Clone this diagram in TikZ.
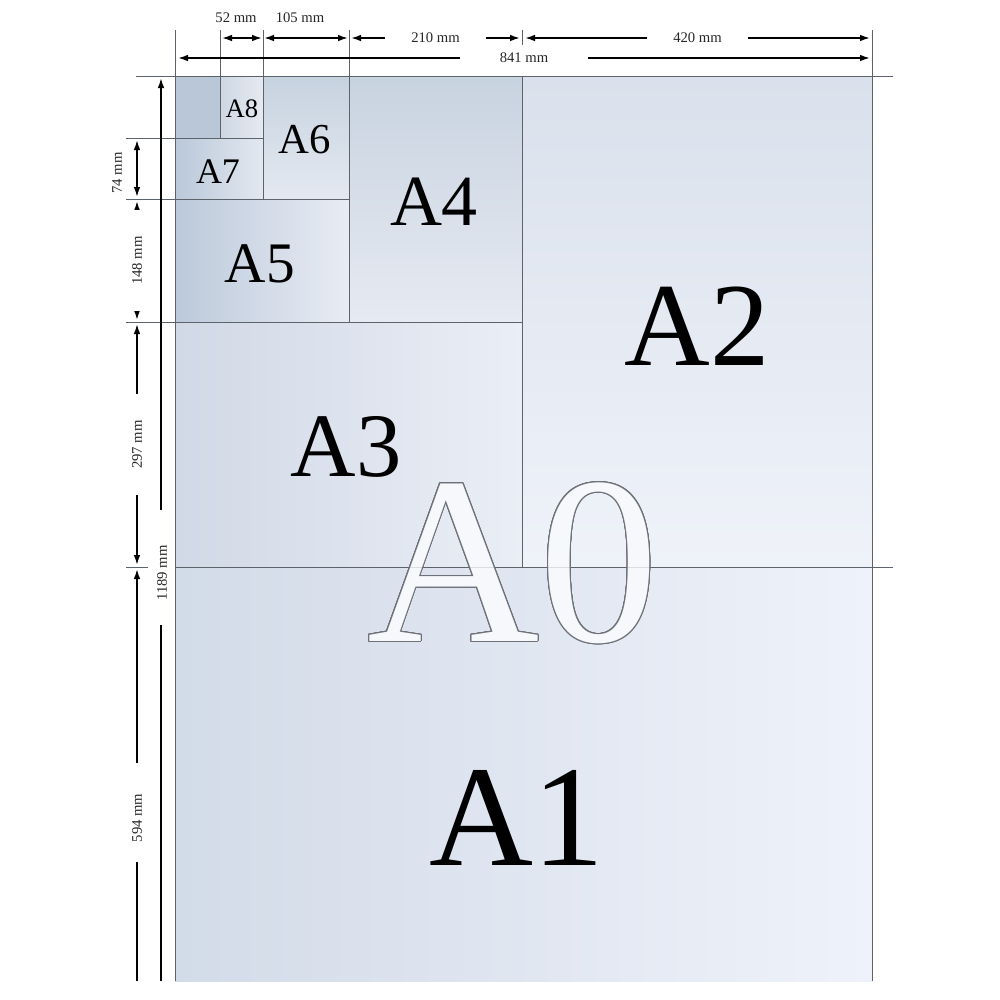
\documentclass[tikz,border=0pt]{standalone}
\usepackage{fontspec}
\setmainfont{Liberation Serif}
\usetikzlibrary{arrows.meta}

\definecolor{gridgray}{HTML}{5C636B}
\definecolor{outlinegray}{HTML}{6E7278}
\definecolor{aoneL}{HTML}{D2DBE8}\definecolor{aoneR}{HTML}{EFF2FA}
\definecolor{atwoT}{HTML}{DAE1EC}\definecolor{atwoB}{HTML}{EFF2F9}
\definecolor{athreeL}{HTML}{D1D9E6}\definecolor{athreeR}{HTML}{EAEEF6}
\definecolor{afourT}{HTML}{C8D3E0}\definecolor{afourB}{HTML}{E6EAF2}
\definecolor{afiveL}{HTML}{BCC9DA}\definecolor{afiveR}{HTML}{E8ECF4}
\definecolor{asixT}{HTML}{C6D2DF}\definecolor{asixB}{HTML}{E4E9F1}
\definecolor{asevenL}{HTML}{BAC8D9}\definecolor{asevenR}{HTML}{E2E8F0}
\definecolor{aeightL}{HTML}{CDD7E3}\definecolor{aeightR}{HTML}{E6EAF1}
\definecolor{aeightX}{HTML}{B9C7D8}
\definecolor{ghostfill}{HTML}{F7F8FB}
\tikzset{
  guide/.style={draw=gridgray, line width=0.7pt},
  dimline/.style={line width=1.3pt, black},
  tip/.tip={Latex[length=7.5pt,width=5pt]},
  dimtext/.style={font=\fontsize{11}{11}\selectfont, text=black!85, inner sep=0pt},
  gaptext/.style={dimtext, fill=white, inner xsep=20pt, inner ysep=2pt},
  sizename/.style={font=\fontsize{#1}{#1}\selectfont, inner sep=0pt},
  ghost/.style={sizename=179}
}

\begin{document}
\begin{tikzpicture}[x=0.75pt,y=0.75pt,yscale=-1,xscale=1]
    \useasboundingbox (0,0) rectangle (1000,1000);
    \fill[white] (0,0) rectangle (1000,1000);
    % sheets
    \shade[left color=aoneL, right color=aoneR] (175,567) rectangle (872,981);
    \shade[top color=atwoT, bottom color=atwoB] (522,76) rectangle (872,567);
    \shade[left color=athreeL, right color=athreeR] (175,322) rectangle (522,567);
    \shade[top color=afourT, bottom color=afourB] (349,76) rectangle (522,322);
    \shade[left color=afiveL, right color=afiveR] (175,199) rectangle (349,322);
    \shade[top color=asixT, bottom color=asixB] (263,76) rectangle (349,199);
    \shade[left color=asevenL, right color=asevenR] (175,138) rectangle (263,199);
    \shade[left color=aeightL, right color=aeightR] (220,76) rectangle (263,138);
    \fill[aeightX] (175,76) rectangle (220,138);

    % sheet edges and guide lines
    \draw[guide] (136,76) -- (893,76);
    \draw[guide] (126,138) -- (263,138);
    \draw[guide] (126,199) -- (349,199);
    \draw[guide] (126,322) -- (522,322);
    \draw[guide] (126,567) -- (148,567);
    \draw[guide] (175,567) -- (893,567);
    \draw[guide] (175,30) -- (175,981);
    \draw[guide] (220,30) -- (220,138);
    \draw[guide] (263,30) -- (263,199);
    \draw[guide] (349,30) -- (349,322);
    \draw[guide] (522,30) -- (522,45);
    \draw[guide] (522,76) -- (522,567);
    \draw[guide] (872,30) -- (872,981);

    % widths
    \draw[dimline,tip-tip] (222,38) -- (262,38);
    \draw[dimline,tip-tip] (264,38) -- (348,38);
    \draw[dimline,tip-tip] (351,38) -- node[gaptext] (w210) {210 mm} (520,38);
    \draw[dimline,tip-tip] (525,38) -- node[gaptext] (w420) {420 mm} (870,38);
    \draw[dimline,tip-tip] (178,58) -- node[gaptext, inner xsep=30pt] (w841) {841 mm} (870,58);
    \node[dimtext] (w52) at (236,18) {52 mm};
    \node[dimtext] (w105) at (300,18) {105 mm};

    % heights
    \draw[dimline,tip-tip] (137,140) -- (137,197);
    \node[dimtext, rotate=90] (h74) at (117,173) {74 mm};
    \draw[dimline,tip-tip] (137,201) -- node[gaptext, rotate=90] (h148) {148 mm} (137,320);
    \draw[dimline,tip-tip] (137,324) -- node[gaptext, rotate=90] (h297) {297 mm} (137,565);
    \draw[dimline,tip-] (137,569) -- (137,763);
    \draw[dimline] (137,862) -- (137,981);
    \node[dimtext, rotate=90] (h594) at (137,818) {594 mm};
    \draw[dimline,-tip] (161,510) -- (161,78);
    \draw[dimline] (161,625) -- (161,981);
    \node[dimtext, rotate=90] (h1189) at (162,573) {1189 mm};

    % sheet names
    \node[sizename=20] (a8) at (242,109) {A8};
    \node[sizename=27] (a7) at (218,172) {A7};
    \node[sizename=32] (a6) at (305,140) {A6};
    \node[sizename=43] (a5) at (260,264) {A5};
    \node[sizename=54] (a4) at (434,202) {A4};
    \node[sizename=68] (a3) at (346,447) {A3};
    \node[sizename=89] (a2) at (697,326) {A2};
    \node[sizename=108] (a1) at (517,818) {A1};

    % outlined A0 over the sheets
    \foreach \ang in {0,20,...,340}
      \node[ghost, text=outlinegray] at ([shift={(\ang:1.1)}]513,563) {A0};
    \node[ghost, text=ghostfill] (a0) at (513,563) {A0};
    \draw[guide, opacity=0.18] (175,567) -- (872,567);
    \draw[guide, opacity=0.18] (522,460) -- (522,567);
\end{tikzpicture}
\end{document}
